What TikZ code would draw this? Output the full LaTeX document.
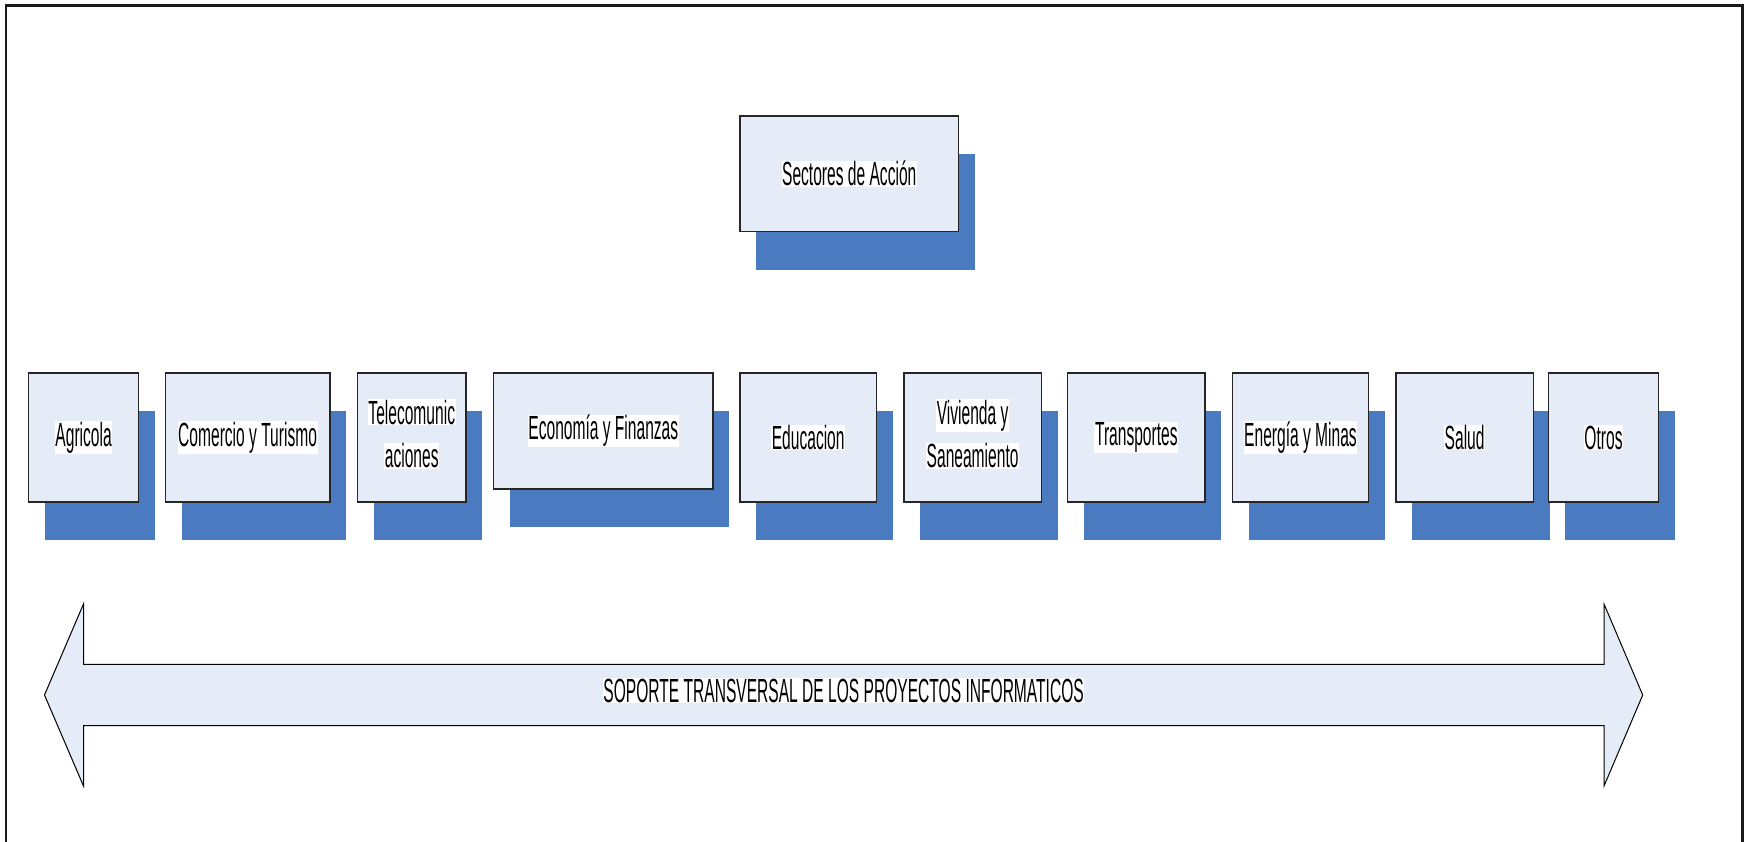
\documentclass[tikz,border=0pt]{standalone}
\usepackage{fontspec}
\setmainfont{Liberation Sans}[FakeStretch=0.465]
\usetikzlibrary{shadows}

\definecolor{boxfill}{RGB}{230,236,247}
\definecolor{shadowblue}{RGB}{74,123,193}
\definecolor{framegray}{RGB}{25,25,25}

% white highlight behind each line of a label
\newcommand\hl[1]{{\setlength{\fboxsep}{0.6pt}\colorbox{white}{#1}}}
% invisible depth that lifts two-line labels a little
\newcommand\liftstrut{\rule[-8pt]{0pt}{8pt}}

\begin{document}
\begin{tikzpicture}[x=1pt,y=-1pt,
  labelfont/.style={font=\fontsize{33.5}{43.5}\selectfont},
  sector/.style={draw=black!85, line width=1.3pt, fill=boxfill,
    minimum height=129pt, inner sep=0pt, align=center, labelfont,
    general shadow={fill=shadowblue, shadow xshift=16.3pt, shadow yshift=-38pt}},
  bigarrow/.style={draw=black, line width=1pt, fill=boxfill, line join=miter}
]
\useasboundingbox (0,0) rectangle (1745,841);

% outer frame (open at the bottom)
\draw[framegray, line width=2.4pt] (6,860) -- (6,5.5) -- (1742.5,5.5) -- (1742.5,860);

% heading box
\node[sector, minimum width=218.5pt, minimum height=115.5pt] (top) at (849.25,173.75) {\hl{Sectores de Acción}};

% sector boxes
\node[sector, minimum width=109.8pt] (agr) at (83.6,437.5) {\hl{Agricola}};
\node[sector, minimum width=164.6pt] (com) at (247.6,437.5) {\hl{Comercio y Turismo}};
\node[sector, minimum width=108.7pt] (tel) at (411.75,437.5) {\hl{Telecomunic}\\\hl{aciones}\liftstrut};
\node[sector, minimum width=219.2pt, minimum height=116pt] (eco) at (603.3,431) {\hl{Economía y Finanzas}};
\node[sector, minimum width=136.2pt] (edu) at (808.2,437.5) {\hl{Educacion}};
\node[sector, minimum width=137.4pt] (viv) at (972.6,437.5) {\hl{Vivienda y}\\\hl{Saneamiento}\liftstrut};
\node[sector, minimum width=137.3pt] (tra) at (1136.35,437.5) {\hl{Transportes}};
\node[sector, minimum width=136.2pt] (ene) at (1300.5,437.5) {\hl{Energía y Minas}};
\node[sector, minimum width=137.4pt] (sal) at (1464.6,437.5) {\hl{Salud}};
\node[sector, minimum width=110pt] (otr) at (1603.5,437.5) {\hl{Otros}};

% double-headed support arrow
\draw[bigarrow] (44.5,695) -- (83.5,604) -- (83.5,664.3) -- (1604,664.3) -- (1604,604)
  -- (1642.7,695) -- (1604,786) -- (1604,725.7) -- (83.5,725.7) -- (83.5,786) -- cycle;
\node[labelfont, inner sep=0pt, anchor=base] (sop) at (843.6,702)
  {\hl{SOPORTE TRANSVERSAL DE LOS PROYECTOS INFORMATICOS}};
\end{tikzpicture}
\end{document}
